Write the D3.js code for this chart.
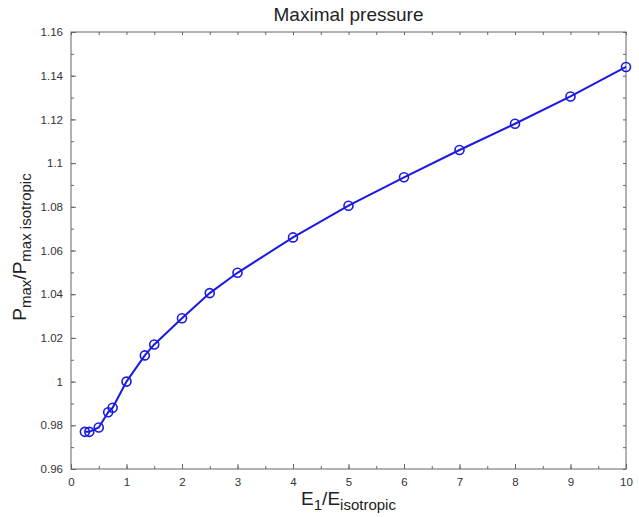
<!DOCTYPE html>
<html>
<head>
<meta charset="utf-8">
<script src="https://cdn.jsdelivr.net/npm/d3@7"></script>
<style>
  body { margin: 0; background: #fff; }
  text { font-family: "Liberation Sans", Arial, sans-serif; fill: #222; }
</style>
</head>
<body>
<div id="container"></div>
<script>
/* data */
var ratioE = [0.25, 0.33, 0.5, 0.67, 0.75, 1, 1.33, 1.5, 2, 2.5, 3, 4, 5, 6, 7, 8, 9, 10]
var ratioP = [0.977, 0.977, 0.979, 0.986, 0.988, 1.000, 1.012, 1.017, 1.029, 1.0405, 1.0498, 1.066, 1.0805, 1.0935, 1.106, 1.118, 1.1305, 1.144]
var xTicks = [0, 1, 2, 3, 4, 5, 6, 7, 8, 9, 10]
var yTicks = [0.96, 0.98, 1, 1.02, 1.04, 1.06, 1.08, 1.1, 1.12, 1.14, 1.16]

/* dimensions */
var W = 639, H = 517
var margin = { top: 32, bottom: 48, left: 71, right: 13 },
    width = W - margin.left - margin.right,
    height = H - margin.top - margin.bottom

var svg = d3.select("#container").append("svg")
            .attr("width", W)
            .attr("height", H)

var g = svg.append("g")
           .attr("transform", "translate(" + margin.left + "," + margin.top + ")")

var x = d3.scaleLinear().domain([0, 10]).range([0, width])
var y = d3.scaleLinear().domain([0.96, 1.16]).range([height, 0])

var axisColor = "#666"
var fmtY = function(d) { return d3.format("")(+d.toFixed(2)) }

/* major + minor ticks, pointing inward, on all four sides */
var xMinor = d3.range(0, 10.01, 0.5)
var yMinor = d3.range(0.96, 1.1601, 0.01)

function styleAxis(sel) {
  sel.select(".domain").remove()
  sel.selectAll("line").attr("stroke", axisColor)
  sel.selectAll("text").attr("font-size", 11.5).style("fill", "#333")
}

g.append("g").attr("transform", "translate(0," + height + ")")
  .call(d3.axisBottom(x).tickValues(xMinor).tickSize(-3).tickFormat(""))
  .call(styleAxis)
g.append("g").attr("transform", "translate(0," + height + ")")
  .call(d3.axisBottom(x).tickValues(xTicks).tickSize(-5).tickPadding(9).tickFormat(d3.format("d")))
  .call(styleAxis)
g.append("g")
  .call(d3.axisTop(x).tickValues(xMinor).tickSize(-3).tickFormat(""))
  .call(styleAxis)

g.append("g")
  .call(d3.axisLeft(y).tickValues(yMinor).tickSize(-3).tickFormat(""))
  .call(styleAxis)
g.append("g")
  .call(d3.axisLeft(y).tickValues(yTicks).tickSize(-5).tickPadding(8).tickFormat(fmtY))
  .call(styleAxis)
g.append("g").attr("transform", "translate(" + width + ",0)")
  .call(d3.axisRight(y).tickValues(yMinor).tickSize(-3).tickFormat(""))
  .call(styleAxis)

/* box */
g.append("rect")
  .attr("width", width).attr("height", height)
  .attr("fill", "none").attr("stroke", axisColor).attr("stroke-width", 1)

/* the curve */
var pts = ratioE.map(function(d, i) { return [d, ratioP[i]] })
var line = d3.line().x(function(d) { return x(d[0]) }).y(function(d) { return y(d[1]) })
var blue = "#1a1ae0"

g.append("path").datum(pts)
  .attr("d", line)
  .attr("fill", "none").attr("stroke", blue).attr("stroke-width", 2)

g.selectAll(".pt").data(pts).enter().append("circle")
  .attr("class", "pt")
  .attr("cx", function(d) { return x(d[0]) })
  .attr("cy", function(d) { return y(d[1]) })
  .attr("r", 4.5)
  .attr("fill", "none").attr("stroke", blue).attr("stroke-width", 1.6)

/* title and labels */
svg.append("text")
  .attr("x", margin.left + width / 2).attr("y", 21)
  .attr("text-anchor", "middle").attr("font-size", 19)
  .text("Maximal pressure")

var xl = svg.append("text")
  .attr("x", margin.left + width / 2).attr("y", 505)
  .attr("text-anchor", "middle").attr("font-size", 19)
xl.append("tspan").text("E")
xl.append("tspan").attr("font-size", 15).attr("dy", 5).text("1")
xl.append("tspan").attr("dy", -5).text("/E")
xl.append("tspan").attr("font-size", 15).attr("dy", 5).text("isotropic")

var yl = svg.append("text")
  .attr("transform", "translate(26," + 247 + ") rotate(-90)")
  .attr("text-anchor", "middle").attr("font-size", 19)
yl.append("tspan").text("P")
yl.append("tspan").attr("font-size", 15).attr("dy", 5).text("max")
yl.append("tspan").attr("dy", -5).text("/P")
yl.append("tspan").attr("font-size", 15).attr("dy", 5).text("max isotropic")
</script>
</body>
</html>
